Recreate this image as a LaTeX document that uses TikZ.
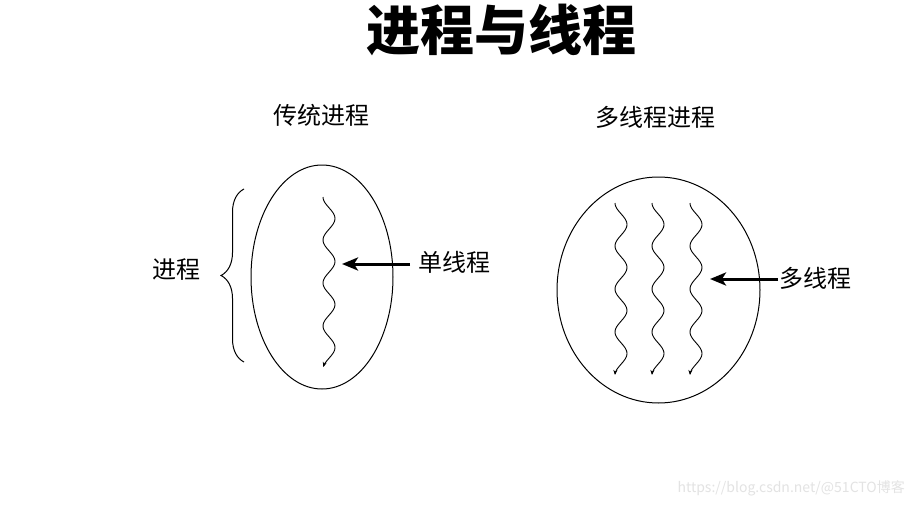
\documentclass[tikz,border=0pt]{standalone}
\usepackage{fontspec}
\newfontfamily\cjk{Noto Sans CJK SC}
\usetikzlibrary{arrows.meta,decorations.pathreplacing,shapes.geometric}
\begin{document}
\begin{tikzpicture}[x=1pt,y=-1pt,
  lbl/.style={font=\cjk\fontsize{24}{28}\selectfont, inner sep=0pt},
  outline/.style={draw, line width=1pt},
  thread/.style={line width=0.9pt, -{Stealth[length=5pt,width=4pt]}},
  pointer/.style={line width=3pt, -{Stealth[length=16pt,width=13pt,inset=4pt]}}]
\useasboundingbox[fill=white] (0,0) rectangle (914,506);
% title
\node[font=\cjk\bfseries\fontsize{54}{60}\selectfont, inner sep=0pt] (title) at (501,30) {进程与线程};
% headings
\node[lbl] (trad) at (321,115) {传统进程};
\node[lbl] (multi) at (655,117) {多线程进程};
% left process
\node[outline, ellipse, minimum width=142pt, minimum height=224pt, inner sep=0pt] (lproc) at (322,277) {};
\draw[thread] plot[smooth, samples=90, domain=0:170] ({329-6*cos(\x*8.3721)}, {197+\x});
\coordinate (stip) at (342,264);
\node[lbl] (single) at (454,262) {单线程};
\coordinate (sstart) at (410,264);
\draw[pointer] (sstart) -- (stip);
% brace
\coordinate (btop) at (244,189);
\coordinate (bbot) at (244,362);
\draw[line width=1pt, decorate, decoration={brace, amplitude=23pt}] (bbot) -- (btop);
\node[lbl] (proc) at (176,270) {进程};
% right process
\node[outline, ellipse, minimum width=203pt, minimum height=226pt, inner sep=0pt] (rproc) at (658.5,290) {};
\foreach \c in {621,658,696}{
  \draw[thread] plot[smooth, samples=90, domain=0:172] ({\c-6*cos(\x*8.3721)}, {203+\x});
}
\coordinate (mtip) at (710,279);
\node[lbl] (mlabel) at (815,278) {多线程};
\coordinate (mstart) at (778,279);
\draw[pointer] (mstart) -- (mtip);
% watermark
\node[font=\cjk\fontsize{14}{16}\selectfont, text=black!11, inner sep=0pt, anchor=east] (wm) at (905,488) {https://blog.csdn.net/@51CTO博客};
\end{tikzpicture}
\end{document}
